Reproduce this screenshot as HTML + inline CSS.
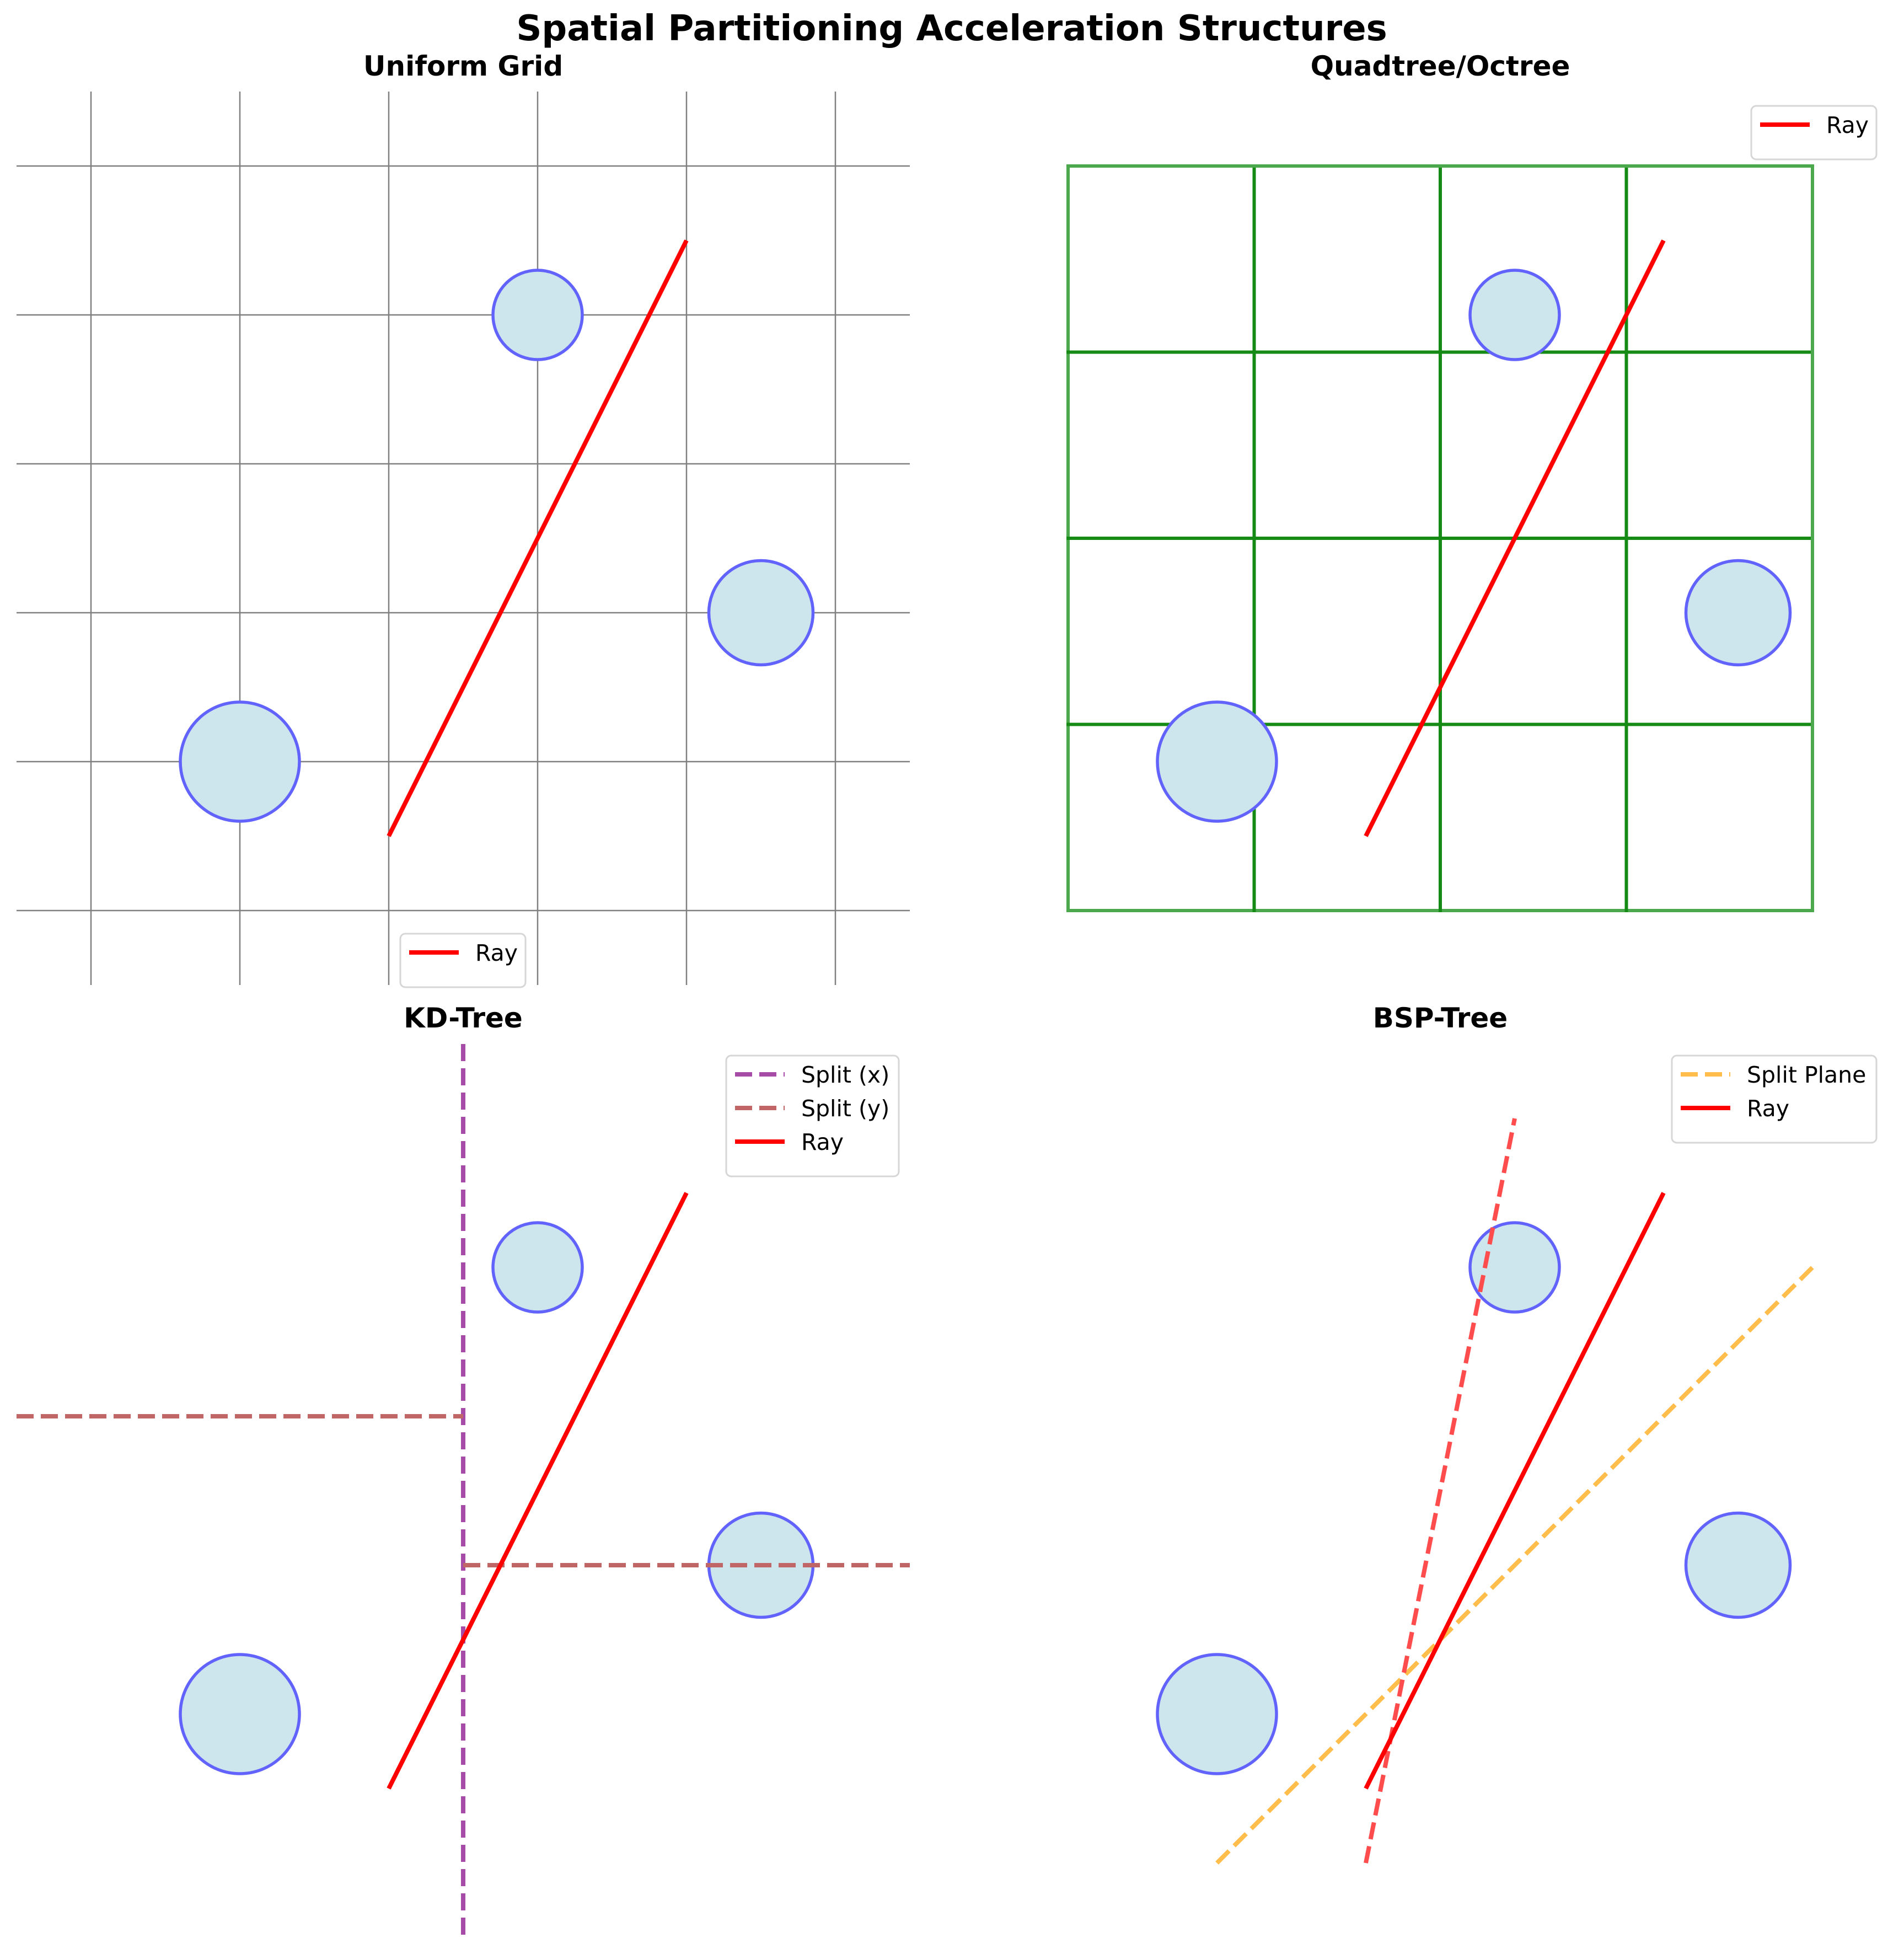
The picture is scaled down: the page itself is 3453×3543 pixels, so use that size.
<!DOCTYPE html>
<html><head><meta charset="utf-8"><style>
html,body{margin:0;padding:0;background:#fff;}
svg{display:block;}
text{font-family:"DejaVu Sans","Liberation Sans",sans-serif;}
</style></head>
<body>
<svg id="fig" xmlns="http://www.w3.org/2000/svg" width="3453" height="3543" viewBox="0 0 3453 3543">
<rect x="0" y="0" width="3453" height="3543" fill="#ffffff"/>
<text x="1726" y="73" font-size="64" font-weight="bold" text-anchor="middle">Spatial Partitioning Acceleration Structures</text>
<g id="layer"></g>
</svg>
<script>
// ---- data ----
const circleX = [3, 4.5, 1];
const circleY = [4, 2, 1];
const circleR = [0.3, 0.35, 0.4];
const rayStart = [2, 0.5];
const rayEnd = [4, 4.5];
const gridTicks = [0, 1, 2, 3, 4, 5];
const quadDivs = [0, 1.25, 2.5, 3.75, 5];
const kdSplitX = 2.5;
const kdSplitYLeft = 3;
const kdSplitYRight = 2;
const bspPlaneStart = [1, 0];
const bspPlaneEnd = [5, 4];
const bspLine2Start = [2, 0];
const bspLine2End = [3, 5];
const xLim = [-0.5, 5.5];
const yLim = [-0.5, 5.5];

const NS = "http://www.w3.org/2000/svg";
const layer = document.getElementById('layer');
function mk(tag, attrs, parent) {
  const e = document.createElementNS(NS, tag);
  for (const k in attrs) e.setAttribute(k, attrs[k]);
  (parent || layer).appendChild(e);
  return e;
}
function axes(ox, oy) {
  const sx = x => ox + 165 + 270 * x;
  const sy = y => oy + 1648 - 270 * y;
  return {sx, sy};
}
function drawCircles(A, g) {
  for (let i = 0; i < circleX.length; i++) {
    const c = mk('ellipse', {cx: A.sx(circleX[i]), cy: A.sy(circleY[i]), rx: circleR[i] * 270, ry: circleR[i] * 270, fill: '#cde6ee', stroke: '#6262fc', 'stroke-width': 5.5}, g);
    
    
  }
}
function drawRay(A, g) {
  const l = mk('line', {x1: A.sx(rayStart[0]), y1: A.sy(rayStart[1]), x2: A.sx(rayEnd[0]), y2: A.sy(rayEnd[1]), stroke: '#ff0000', 'stroke-width': 8}, g);
  
  
}
function title(txt, cx, y, name) {
  const t = mk('text', {x: cx, y: y, 'font-size': 50, 'font-weight': 'bold', 'text-anchor': 'middle'});
  t.textContent = txt;
  
  
}
function legend(x, y, w, entries, name) {
  const g = mk('g', {});
  
  
  const h = 34 + entries.length * 61 + 10;
  mk('rect', {x: x, y: y, width: w, height: h - 8, rx: 9, fill: '#ffffff', 'fill-opacity': 0.8, stroke: '#d6d6d6', 'stroke-width': 3}, g);
  entries.forEach((e, i) => {
    const cy = y + 34 + i * 61;
    const ln = mk('line', {x1: x + 16, y1: cy, x2: x + 106, y2: cy, stroke: e.color, 'stroke-width': 8}, g);
    if (e.dash) ln.setAttribute('stroke-dasharray', '31 13');
    
    
    const t = mk('text', {x: x + 136, y: cy + 15, 'font-size': 41}, g);
    t.textContent = e.label;
    
    
  });
}

// ---- Panel 1: Uniform Grid ----
(function () {
  const A = axes(0, 3);
  const g = mk('g', {});
  
  
  gridTicks.forEach(v => {
    const a = mk('line', {x1: A.sx(v), y1: A.sy(yLim[1]), x2: A.sx(v), y2: A.sy(yLim[0]), stroke: '#808080', 'stroke-width': 2.5}, g);
    
    
    const b = mk('line', {x1: A.sx(xLim[0]), y1: A.sy(v), x2: A.sx(xLim[1]), y2: A.sy(v), stroke: '#808080', 'stroke-width': 2.5}, g);
    
    
  });
  drawCircles(A, g);
  drawRay(A, g);
  title('Uniform Grid', 840, 137, 'uniform-grid-title');
  legend(726, 1693, 227, [{label: 'Ray', color: '#ff0000'}], 'uniform-grid-legend');
})();

// ---- Panel 2: Quadtree ----
(function () {
  const A = axes(1772, 3);
  const g = mk('g', {});
  
  
  const lo = quadDivs[0], hi = quadDivs[quadDivs.length - 1];
  quadDivs.forEach((v, i) => {
    const outer = (i === 0 || i === quadDivs.length - 1);
    const col = outer ? '#4ca84c' : '#158a15';
    const a = mk('line', {x1: A.sx(v), y1: A.sy(lo) + 3, x2: A.sx(v), y2: A.sy(hi) - 3, stroke: col, 'stroke-width': 6}, g);
    
    
    const b = mk('line', {x1: A.sx(lo) - 3, y1: A.sy(v), x2: A.sx(hi) + 3, y2: A.sy(v), stroke: col, 'stroke-width': 6}, g);
    
    
  });
  drawCircles(A, g);
  drawRay(A, g);
  title('Quadtree/Octree', 2612, 137, 'quadtree-title');
  legend(3176, 192, 227, [{label: 'Ray', color: '#ff0000'}], 'quadtree-legend');
})();

// ---- Panel 3: KD-Tree ----
(function () {
  const A = axes(0, 1730);
  const g = mk('g', {});
  
  
  drawCircles(A, g);
  const v = mk('line', {x1: A.sx(kdSplitX), y1: A.sy(yLim[1]), x2: A.sx(kdSplitX), y2: A.sy(yLim[0]), stroke: '#a64ca6', 'stroke-width': 8, 'stroke-dasharray': '31 13'}, g);
  
  
  const h1 = mk('line', {x1: A.sx(xLim[0]), y1: A.sy(kdSplitYLeft), x2: A.sx(kdSplitX), y2: A.sy(kdSplitYLeft), stroke: '#c06666', 'stroke-width': 8, 'stroke-dasharray': '31 13'}, g);
  
  
  const h2 = mk('line', {x1: A.sx(kdSplitX), y1: A.sy(kdSplitYRight), x2: A.sx(xLim[1]), y2: A.sy(kdSplitYRight), stroke: '#c06666', 'stroke-width': 8, 'stroke-dasharray': '31 13'}, g);
  
  
  drawRay(A, g);
  title('KD-Tree', 840, 1863, 'kd-tree-title');
  legend(1317, 1914, 313, [{label: 'Split (x)', color: '#a64ca6', dash: true}, {label: 'Split (y)', color: '#c06666', dash: true}, {label: 'Ray', color: '#ff0000'}], 'kd-tree-legend');
})();

// ---- Panel 4: BSP-Tree ----
(function () {
  const A = axes(1772, 1730);
  const g = mk('g', {});
  
  
  drawCircles(A, g);
  const p = mk('line', {x1: A.sx(bspPlaneStart[0]), y1: A.sy(bspPlaneStart[1]), x2: A.sx(bspPlaneEnd[0]), y2: A.sy(bspPlaneEnd[1]), stroke: '#ffbd4c', 'stroke-width': 8, 'stroke-dasharray': '31 13'}, g);
  
  
  const q = mk('line', {x1: A.sx(bspLine2Start[0]), y1: A.sy(bspLine2Start[1]), x2: A.sx(bspLine2End[0]), y2: A.sy(bspLine2End[1]), stroke: '#ff4c4c', 'stroke-width': 8, 'stroke-dasharray': '31 13'}, g);
  
  
  drawRay(A, g);
  title('BSP-Tree', 2612, 1863, 'bsp-tree-title');
  legend(3032, 1914, 371, [{label: 'Split Plane', color: '#ffbd4c', dash: true}, {label: 'Ray', color: '#ff0000'}], 'bsp-tree-legend');
})();
</script>
</body></html>
